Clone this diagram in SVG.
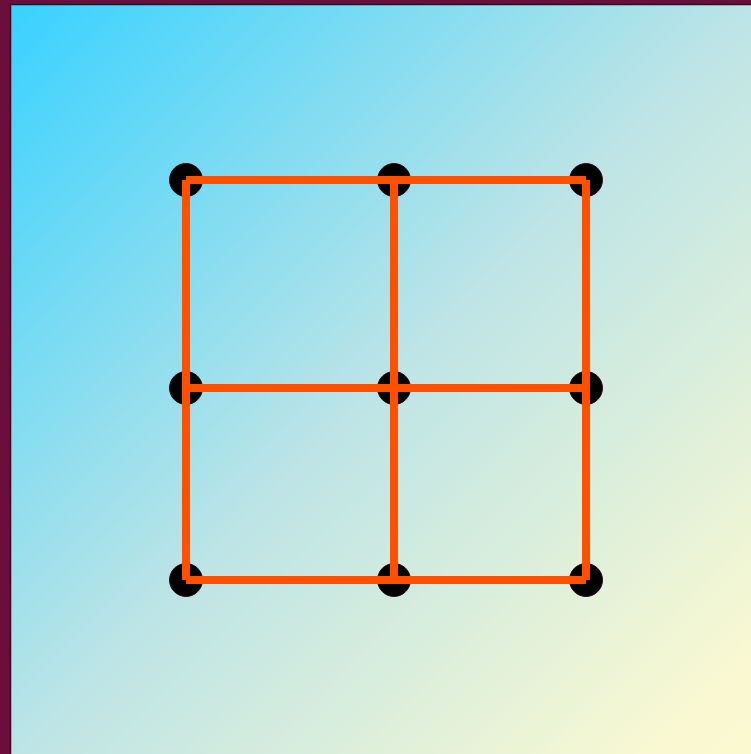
<svg xmlns="http://www.w3.org/2000/svg" width="751" height="754" viewBox="0 0 751 754">
<defs>
<linearGradient id="bg" x1="0" y1="0" x2="1" y2="1">
<stop offset="0" stop-color="#38d2ff"/>
<stop offset="0.5" stop-color="#bde4e6"/>
<stop offset="0.92" stop-color="#f8f8d2"/>
<stop offset="1" stop-color="#fcf9cf"/>
</linearGradient>
<style>
.node{fill:#000;stroke:#3a0a22;stroke-width:1}
.edge{stroke:#ff5000;stroke-width:8;stroke-linecap:butt;fill:none}
</style>
</defs>
<rect x="0" y="0" width="751" height="754" fill="#6b0e3c"/>
<rect x="10.5" y="4.5" width="745" height="755" fill="url(#bg)" stroke="#3a0820" stroke-width="1.5"/>
<g id="nodes">
<g id="n1"><circle class="node" cx="186" cy="180" r="16.5"/></g>
<g id="n2"><circle class="node" cx="394" cy="180" r="16.5"/></g>
<g id="n3"><circle class="node" cx="586" cy="180" r="16.5"/></g>
<g id="n4"><circle class="node" cx="186" cy="388" r="16.5"/></g>
<g id="n5"><circle class="node" cx="394" cy="388" r="16.5"/></g>
<g id="n6"><circle class="node" cx="586" cy="388" r="16.5"/></g>
<g id="n7"><circle class="node" cx="186" cy="580" r="16.5"/></g>
<g id="n8"><circle class="node" cx="394" cy="580" r="16.5"/></g>
<g id="n9"><circle class="node" cx="586" cy="580" r="16.5"/></g>
</g>
<g id="connectors">
<line class="edge" x1="186" y1="180" x2="394" y2="180"/>
<line class="edge" x1="394" y1="180" x2="586" y2="180"/>
<line class="edge" x1="186" y1="388" x2="394" y2="388"/>
<line class="edge" x1="394" y1="388" x2="586" y2="388"/>
<line class="edge" x1="186" y1="580" x2="394" y2="580"/>
<line class="edge" x1="394" y1="580" x2="586" y2="580"/>
<line class="edge" x1="186" y1="180" x2="186" y2="388"/>
<line class="edge" x1="186" y1="388" x2="186" y2="580"/>
<line class="edge" x1="394" y1="180" x2="394" y2="388"/>
<line class="edge" x1="394" y1="388" x2="394" y2="580"/>
<line class="edge" x1="586" y1="180" x2="586" y2="388"/>
<line class="edge" x1="586" y1="388" x2="586" y2="580"/>
</g>
</svg>
